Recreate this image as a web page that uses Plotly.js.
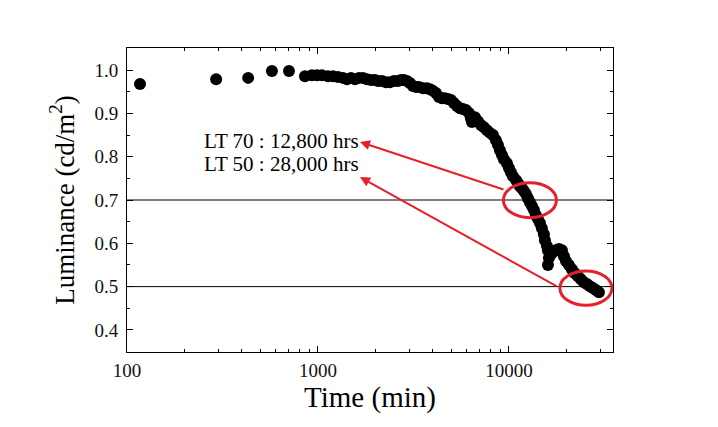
<!DOCTYPE html>
<html>
<head>
<meta charset="utf-8">
<script src="https://cdn.plot.ly/plotly-3.0.1.min.js"></script>
<style>
html,body{margin:0;padding:0;background:#fff;}
#chart{width:718px;height:427px;}
</style>
</head>
<body>
<div id="chart"></div>
<script>
// Time (min)
const timeMin = [117, 293, 431, 574, 705, 855, 930, 988, 1049, 1128, 1198, 1273, 1352, 1419, 1489, 1562, 1640, 1720, 1805, 1895, 1988, 2062, 2164, 2270, 2382, 2500, 2623, 2720, 2820, 2924, 3032, 3144, 3260, 3380, 3546, 3721, 3858, 4001, 4148, 4301, 4460, 4624, 4795, 4972, 5152, 5343, 5541, 5743, 5955, 6175, 6324, 6401, 6637, 6882, 7136, 7399, 7672, 7955, 8249, 8553, 8762, 8974, 9193, 9415, 9761, 10000, 10244, 10493, 10880, 11145, 11417, 11697, 11981, 12274, 12574, 12878, 13194, 13517, 13847, 14183, 14534, 14888, 15249, 15435, 15812, 16004, 16198, 16004, 16594, 17000, 17628, 18277, 18950, 19410, 19880, 20610, 21370, 22160, 22980, 23820, 24700, 25610, 26550, 27530, 28550, 29600];
// Normalised luminance
const luminance = [0.968, 0.979, 0.982, 0.998, 0.998, 0.986, 0.988, 0.988, 0.988, 0.986, 0.986, 0.984, 0.982, 0.979, 0.982, 0.979, 0.982, 0.982, 0.979, 0.977, 0.977, 0.975, 0.975, 0.972, 0.972, 0.975, 0.975, 0.977, 0.977, 0.975, 0.970, 0.963, 0.961, 0.961, 0.958, 0.958, 0.956, 0.952, 0.947, 0.938, 0.935, 0.935, 0.933, 0.931, 0.924, 0.917, 0.912, 0.910, 0.908, 0.901, 0.889, 0.880, 0.891, 0.882, 0.873, 0.868, 0.861, 0.855, 0.850, 0.838, 0.827, 0.815, 0.804, 0.794, 0.785, 0.774, 0.764, 0.755, 0.746, 0.739, 0.732, 0.727, 0.721, 0.714, 0.704, 0.695, 0.686, 0.677, 0.665, 0.656, 0.647, 0.635, 0.621, 0.607, 0.594, 0.584, 0.566, 0.550, 0.575, 0.580, 0.584, 0.587, 0.584, 0.570, 0.559, 0.550, 0.540, 0.531, 0.524, 0.517, 0.510, 0.506, 0.501, 0.497, 0.492, 0.487];

const xTickVals = [100, 1000, 10000];
const xTickText = ['100', '1000', '10000'];
const yTickVals = [0.4, 0.5, 0.6, 0.7, 0.8, 0.9, 1.0];
const yTickText = ['0.4', '0.5', '0.6', '0.7', '0.8', '0.9', '1.0'];
const refLevels = [0.7, 0.5];
const lifetimeLabels = ['LT 70 : 12,800 hrs', 'LT 50 : 28,000 hrs'];

const serif = 'Liberation Serif, Times New Roman, serif';
const red = '#e5202a';

const trace = {
  x: timeMin, y: luminance, type: 'scatter', mode: 'markers',
  marker: {color: '#000', size: 12, line: {width: 0}},
  hoverinfo: 'skip'
};

const shapes = refLevels.map(v => ({
  type: 'line', xref: 'paper', yref: 'y', x0: 0, x1: 1, y0: v, y1: v,
  line: {color: '#000', width: 1}
}));
shapes.push({type: 'circle', xref: 'x', yref: 'y', x0: 9358, x1: 17735, y0: 0.659, y1: 0.740,
  line: {color: red, width: 3}});
shapes.push({type: 'circle', xref: 'x', yref: 'y', x0: 18493, x1: 34620, y0: 0.457, y1: 0.536,
  line: {color: red, width: 3}});

const annotations = [
  {xref: 'x', yref: 'y', x: 2.3927, y: 0.836, xanchor: 'left', yanchor: 'middle', showarrow: false,
   text: lifetimeLabels[0], font: {family: serif, size: 21, color: '#000'}},
  {xref: 'x', yref: 'y', x: 2.3927, y: 0.783, xanchor: 'left', yanchor: 'middle', showarrow: false,
   text: lifetimeLabels[1], font: {family: serif, size: 21, color: '#000'}},
  {xref: 'x', yref: 'y', x: 3.2199, y: 0.834, text: '', showarrow: true, ax: 145, ay: 48,
   arrowhead: 2, arrowsize: 1, arrowwidth: 2, arrowcolor: red, standoff: 0, startstandoff: 0},
  {xref: 'x', yref: 'y', x: 3.2199, y: 0.753, text: '', showarrow: true, ax: 198, ay: 110,
   arrowhead: 2, arrowsize: 1, arrowwidth: 2, arrowcolor: red, standoff: 0, startstandoff: 0}
];

const layout = {
  width: 718, height: 427,
  margin: {l: 127, r: 105, t: 48, b: 75},
  paper_bgcolor: '#fff', plot_bgcolor: '#fff',
  showlegend: false,
  xaxis: {
    type: 'log', range: [2, 4.545], autorange: false,
    tickvals: xTickVals, ticktext: xTickText,
    ticks: 'inside', ticklen: 6, tickwidth: 1, tickcolor: '#000',
    minor: {ticks: 'inside', ticklen: 3, tickwidth: 1, tickcolor: '#000', dtick: 'D1', showgrid: false},
    showline: true, linecolor: '#000', linewidth: 1, mirror: 'allticks',
    showgrid: false, zeroline: false,
    tickfont: {family: serif, size: 19, color: '#111'},
    ticklabelstandoff: 1,
    title: {text: 'Time (min)', font: {family: serif, size: 29, color: '#000'}, standoff: 6},
    automargin: false
  },
  yaxis: {
    range: [0.349, 1.051], autorange: false,
    tickvals: yTickVals, ticktext: yTickText,
    ticks: 'inside', ticklen: 6, tickwidth: 1, tickcolor: '#000',
    minor: {ticks: 'inside', ticklen: 3, tickwidth: 1, tickcolor: '#000', dtick: 0.05, showgrid: false},
    showline: true, linecolor: '#000', linewidth: 1, mirror: 'allticks',
    showgrid: false, zeroline: false,
    tickfont: {family: serif, size: 19, color: '#111'},
    ticklabelstandoff: 4,
    title: {text: 'Luminance (cd/m<sup>2</sup>)', font: {family: serif, size: 27, color: '#000'}, standoff: 12},
    automargin: false
  },
  shapes: shapes,
  annotations: annotations
};

Plotly.newPlot('chart', [trace], layout, {displayModeBar: false, staticPlot: true});
</script>
</body>
</html>
